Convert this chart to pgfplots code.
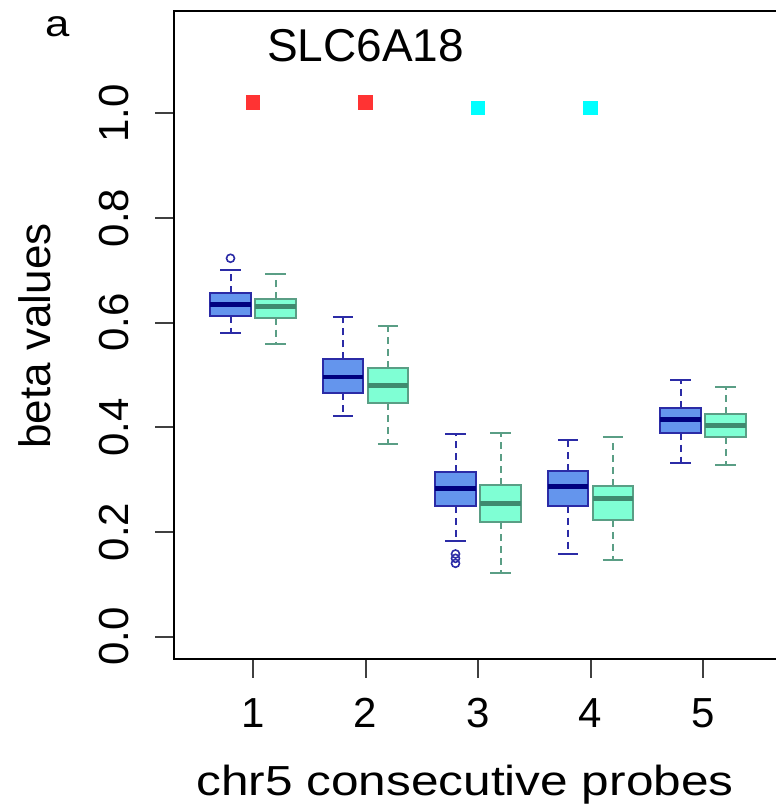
\documentclass[border=0pt]{standalone}
\usepackage{pgfplots}
\pgfplotsset{compat=1.18}
\usepgfplotslibrary{statistics}
\usepackage{fontspec}
\setmainfont{Liberation Sans}
\newfontfamily\wide[FakeStretch=1.18]{Liberation Sans}
\definecolor{bfill}{HTML}{6495ED}
\definecolor{bborder}{HTML}{2B2BA6}
\definecolor{bmed}{HTML}{00007F}
\definecolor{gfill}{HTML}{7FFFD4}
\definecolor{gborder}{HTML}{5A9E85}
\definecolor{gmed}{HTML}{3F8A6F}
\definecolor{sqred}{HTML}{FF3333}
\definecolor{sqcyan}{HTML}{00FFFF}
\pgfplotsset{
  rbox/.style n args={3}{
    draw=#1, line width=2pt, solid, mark=none,
    boxplot/draw direction=y,
    boxplot/box extend=0.356,
    boxplot/whisker extend=0.178,
    boxplot/every box/.style={fill=#2, draw=#1, line width=2pt},
    boxplot/every median/.style={draw=#3, line width=4.5pt},
    boxplot/every whisker/.style={draw=#1, line width=2pt},
    boxplot/draw/lower whisker/.code={%
      \draw[/pgfplots/boxplot/every whisker/.try, dash pattern=on 7pt off 5pt]
        (boxplot cs:\pgfplotsboxplotvalue{lower quartile}) -- (boxplot cs:\pgfplotsboxplotvalue{lower whisker});
      \draw[/pgfplots/boxplot/every whisker/.try, solid]
        (boxplot whisker cs:\pgfplotsboxplotvalue{lower whisker},0) -- (boxplot whisker cs:\pgfplotsboxplotvalue{lower whisker},1);
    },
    boxplot/draw/upper whisker/.code={%
      \draw[/pgfplots/boxplot/every whisker/.try, dash pattern=on 7pt off 5pt]
        (boxplot cs:\pgfplotsboxplotvalue{upper quartile}) -- (boxplot cs:\pgfplotsboxplotvalue{upper whisker});
      \draw[/pgfplots/boxplot/every whisker/.try, solid]
        (boxplot whisker cs:\pgfplotsboxplotvalue{upper whisker},0) -- (boxplot whisker cs:\pgfplotsboxplotvalue{upper whisker},1);
    },
  },
  bluebox/.style={rbox={bborder}{bfill}{bmed}},
  greenbox/.style={rbox={gborder}{gfill}{gmed}},
}
% pos, lower whisker, lower quartile, median, upper quartile, upper whisker
\newcommand{\rboxplot}[7]{%
  \addplot[#7, boxplot prepared={draw position=#1, lower whisker=#2,
    lower quartile=#3, median=#4, upper quartile=#5, upper whisker=#6}] coordinates {};
}
\begin{document}
\begin{tikzpicture}
\begin{axis}[
  at={(174.25pt,150pt)}, anchor=south west,
  scale only axis, width=607.5pt, height=648pt,
  xmin=0.3, xmax=5.7, ymin=-0.043, ymax=1.1955,
  axis line style={line width=2pt, black},
  xtick={1,2,3,4,5}, ytick={0,0.2,0.4,0.6,0.8,1.0},
  yticklabels={0.0,0.2,0.4,0.6,0.8,1.0},
  tick align=outside, major tick length=19pt, tick pos=left,
  tick style={line width=2pt, color=black!75},
  ticklabel style={font=\fontsize{42}{42}\selectfont},
  /pgf/number format/assume math mode=true,
  yticklabel style={rotate=90, anchor=south, inner sep=0pt},
  xticklabel style={anchor=north, inner sep=0pt},
  xticklabel shift=20pt, yticklabel shift=26pt,
  xlabel={chr5 consecutive probes},
  xlabel style={at={(axis description cs:0.4786,-0.2099)}, anchor=base, inner sep=0pt, font=\wide\fontsize{42}{42}\selectfont},
  ylabel={beta values},
  ylabel style={at={(axis description cs:-0.2292,0.4985)}, anchor=center, inner sep=0pt, font=\fontsize{44}{44}\selectfont},
  clip=false,
]
\rboxplot{0.8}{0.5807}{0.6126}{0.635}{0.656}{0.7005}{bluebox}
\rboxplot{1.2}{0.5596}{0.6093}{0.631}{0.6445}{0.6934}{greenbox}
\rboxplot{1.8}{0.422}{0.4648}{0.496}{0.5298}{0.610}{bluebox}
\rboxplot{2.2}{0.368}{0.4457}{0.4794}{0.5138}{0.594}{greenbox}
\rboxplot{2.8}{0.1831}{0.2495}{0.2833}{0.3138}{0.3876}{bluebox}
\rboxplot{3.2}{0.122}{0.2188}{0.2546}{0.2896}{0.389}{greenbox}
\rboxplot{3.8}{0.1577}{0.25}{0.2863}{0.3163}{0.3762}{bluebox}
\rboxplot{4.2}{0.1462}{0.2227}{0.2641}{0.2877}{0.3807}{greenbox}
\rboxplot{4.8}{0.3317}{0.3895}{0.4151}{0.4373}{0.4903}{bluebox}
\rboxplot{5.2}{0.3272}{0.3807}{0.4029}{0.4253}{0.4763}{greenbox}
% outliers
\addplot[only marks, mark=o, mark size=4pt, mark options={draw=bborder, line width=1.6pt}]
  coordinates {(0.8,0.7229) (2.8,0.1577) (2.8,0.1494) (2.8,0.1399)};
% significance squares
\addplot[only marks, mark=square*, mark size=6.75pt, color=sqred, mark options={line width=0pt}]
  coordinates {(1,1.0206) (2,1.0206)};
\addplot[only marks, mark=square*, mark size=6.75pt, color=sqcyan, mark options={line width=0pt}]
  coordinates {(3,1.010) (4,1.010)};
\node[anchor=base, inner sep=0pt, font=\fontsize{46}{46}\selectfont] at (axis cs:2,1.0986) {SLC6A18};
\end{axis}
\node[anchor=base west, inner sep=0pt, font=\wide\fontsize{37}{37}\selectfont] at (45pt,772pt) {a};
\pgfresetboundingbox
\path[use as bounding box] (0,0) rectangle (776pt,809pt);
\end{tikzpicture}
\end{document}
